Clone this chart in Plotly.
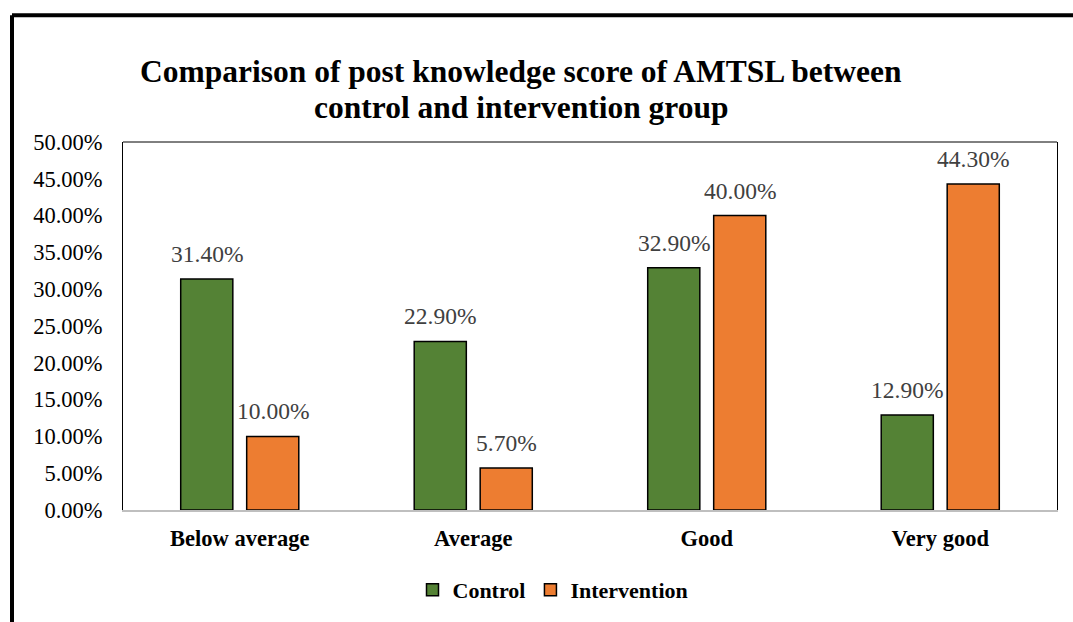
import plotly.graph_objects as go

categories = ["Below average", "Average", "Good", "Very good"]
control = [0.314, 0.229, 0.329, 0.129]
intervention = [0.100, 0.057, 0.400, 0.443]
series_names = ["Control", "Intervention"]
colors = ["#548235", "#ED7D31"]
title_lines = ["Comparison of post knowledge score of AMTSL between",
               "control and intervention group"]

W, H = 1073, 622
L, R, T, B = 123, 16, 142, 111
pw, ph = W - L - R, H - T - B

font = "Times New Roman, Liberation Serif, serif"
BARGAP = 0.435

fig = go.Figure()
for i, (name, vals, col) in enumerate(zip(series_names, [control, intervention], colors)):
    fig.add_trace(go.Bar(
        name=f"<b>{name}</b>", x=categories, y=vals,
        marker=dict(color=col, line=dict(color="black", width=1.5)),
    ))

# data labels as annotations above each bar
slot = (1 - BARGAP) / 2
for i, vals in enumerate([control, intervention]):
    for j, v in enumerate(vals):
        fig.add_annotation(
            x=j + (i - 0.5) * slot, y=v, xref="x", yref="y",
            text=f"{v*100:.2f}%", showarrow=False,
            yanchor="middle", yshift=25,
            font=dict(family=font, size=23.5, color="#404040"),
        )

# title (two lines)
for k, (line, yc) in enumerate(zip(title_lines, [71, 107])):
    fig.add_annotation(
        text=f"<b>{line}</b>", xref="paper", yref="paper",
        x=(521 - L) / pw, y=1 + (T - yc) / ph,
        xanchor="center", yanchor="middle", showarrow=False,
        font=dict(family=font, size=31.5, color="black"),
    )

fig.update_layout(
    width=W, height=H,
    margin=dict(l=L, r=R, t=T, b=B),
    paper_bgcolor="white", plot_bgcolor="white",
    barmode="group", bargap=BARGAP, bargroupgap=0.21,
    legend=dict(
        orientation="h", x=(553 - L) / pw, xanchor="center",
        y=-(590 - (T + ph)) / ph, yanchor="middle",
        font=dict(family=font, size=22, color="black"),
        itemwidth=30, traceorder="normal",
    ),
    showlegend=True,
)
fig.update_yaxes(
    range=[0, 0.5], dtick=0.05, tickformat=".2%",
    tickfont=dict(family=font, size=22.5, color="black"),
    showgrid=False, zeroline=False,
    showline=True, linecolor="black", linewidth=1, mirror=True,
    ticks="", ticklabelstandoff=15,
)
fig.update_xaxes(
    tickmode="array", tickvals=categories,
    ticktext=[f"<b>{c}</b>" for c in categories],
    tickfont=dict(family=font, size=22.5, color="black"),
    showline=True, linecolor="#bfbfbf", linewidth=2,
    ticks="", ticklabelstandoff=7,
)
# top border of plot area
fig.add_shape(type="line", xref="paper", yref="paper", x0=0, x1=1, y0=1, y1=1,
              line=dict(color="black", width=1))
# outer frame (thick black) left and top
fx = (12 - L) / pw
fy = 1 + (T - 15) / ph
fig.add_shape(type="line", xref="paper", yref="paper", x0=fx, x1=fx, y0=fy, y1=-1,
              line=dict(color="black", width=4))
fig.add_shape(type="line", xref="paper", yref="paper", x0=fx, x1=1.2, y0=fy, y1=fy,
              line=dict(color="black", width=4))

fig.write_html("out.html", config={"displayModeBar": False},
               post_script="document.body.style.margin='0';")
